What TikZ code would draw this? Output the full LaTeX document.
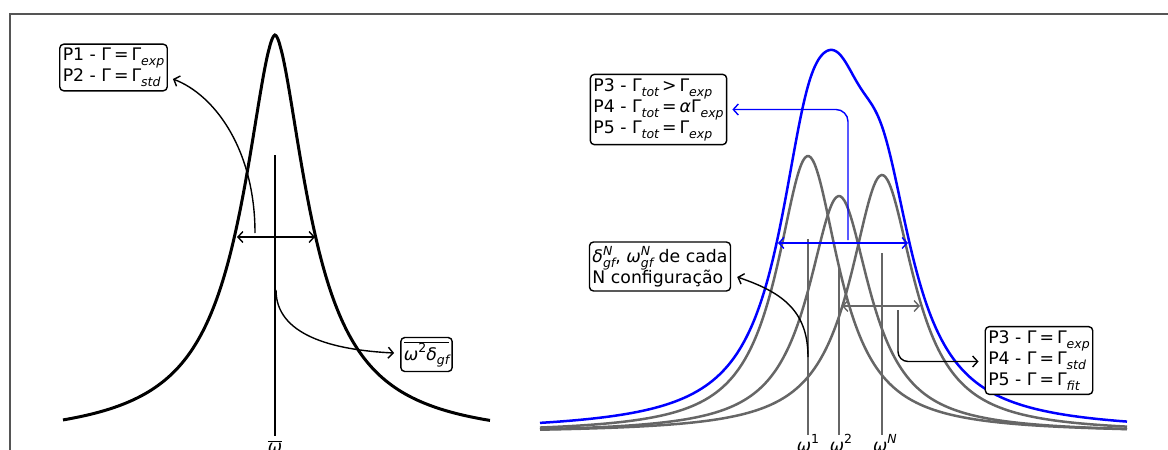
\documentclass[tikz,border=0pt]{standalone}
\usepackage{fontspec}
\setmainfont{DejaVu Sans}
\usetikzlibrary{arrows.meta}
\newcommand\subx[1]{\raisebox{-0.28em}{\fontsize{12.5}{13}\selectfont\itshape #1}}
\newcommand\supx[1]{\raisebox{0.42em}{\fontsize{12.5}{13}\selectfont #1}}
\newcommand\supsubx[2]{\rlap{\supx{\itshape #1}}\subx{#2}}
\newcommand\eqx{\hspace{3pt}=\hspace{3pt}}
\newcommand\gtx{\hspace{3pt}>\hspace{3pt}}
\definecolor{curvegray}{HTML}{666666}
\definecolor{framegray}{HTML}{555555}
\tikzset{
  lbox/.style={draw, line width=1.4pt, rounded corners=4pt, fill=white, inner xsep=3pt, inner ysep=4pt,
    align=left, font=\fontsize{17.3}{21}\selectfont},
  conn/.style={line width=1.4pt, -{Straight Barb[length=5pt,width=11pt]}},
  dconn/.style={line width=1.4pt, {Straight Barb[length=5pt,width=11pt]}-{Straight Barb[length=5pt,width=11pt]}},
  blackcurve/.style={line width=3pt, black},
  graycurve/.style={line width=2.5pt, curvegray},
  bluecurve/.style={line width=2.5pt, blue},
  vline/.style={line width=2pt, curvegray},
  axlabel/.style={anchor=base, inner sep=0pt, font=\fontsize{17}{20}\selectfont},
}
\begin{document}
\begin{tikzpicture}[x=1pt,y=-1pt]
\useasboundingbox (0,0) rectangle (1168,450);
\clip (0,0) rectangle (1168,450);
\draw[framegray, line width=1.5pt] (10,452) -- (10,14) -- (1170,14);

% ---------- left panel ----------
\draw[blackcurve] plot[domain=63:490, samples=400, smooth] (\x, {442 - 407/(1+pow(abs((\x-275)/41),1.74))});
\coordinate (lt) at (275,155);
\coordinate (lbot) at (275,436);
\draw[line width=2pt, black] (lt) -- (lbot);
\coordinate (la) at (237,237);
\coordinate (lb) at (315,237);
\draw[dconn] (la) -- (lb);
\node[lbox] (p12) at (113.5,67.5) {P1 - Γ\eqx Γ\subx{exp}\\P2 - Γ\eqx Γ\subx{std}};
\node[lbox] (om) at (426.5,354.5) {$\overline{\hbox{\itshape ω\supx{\upshape 2}δ\subx{gf}}}$};
\coordinate (lc) at (255,233);
\coordinate (ld) at (276,290);
\draw[conn] (lc) .. controls +(0,-83) and +(42,16) .. ([xshift=5pt,yshift=-11.5pt]p12.east);
\draw[conn] (ld) .. controls +(0,45) and +(-62,-3) .. ([xshift=-6pt,yshift=1.5pt]om.west);
\node[axlabel] (wbar) at (275,452) {$\overline{\hbox{\itshape ω}}$};

% ---------- right panel ----------
\draw[graycurve] plot[domain=540:1127, samples=300, smooth] (\x, {433 - 277/(1+((\x-808)/38)^2)});
\draw[graycurve] plot[domain=540:1127, samples=300, smooth] (\x, {433 - 237/(1+((\x-839)/38)^2)});
\draw[graycurve] plot[domain=540:1127, samples=300, smooth] (\x, {433 - 258/(1+((\x-882)/39)^2)});
\draw[bluecurve] plot[domain=540:1127, samples=400, smooth] (\x, {432 - 0.728*(277/(1+((\x-808)/38)^2) + 237/(1+((\x-839)/38)^2) + 258/(1+((\x-882)/39)^2))});

\coordinate (v1t) at (808,239); \coordinate (v1b) at (808,435);
\coordinate (v2t) at (839,267); \coordinate (v2b) at (839,435);
\coordinate (v3t) at (882,253); \coordinate (v3b) at (882,435);
\draw[vline] (v1t) -- (v1b);
\draw[vline] (v2t) -- (v2b);
\draw[vline] (v3t) -- (v3b);
\node[axlabel] (w1) at (808,451) {\itshape ω\supx{\upshape 1}};
\node[axlabel] (w2) at (841,451) {\itshape ω\supx{\upshape 2}};
\node[axlabel] (wn) at (885,451) {\itshape ω\supx{N}};

\node[lbox] (ptop) at (658.5,109.5) {P3 - Γ\subx{tot}\gtx Γ\subx{exp}\\P4 - Γ\subx{tot}\eqx{\itshape α}Γ\subx{exp}\\P5 - Γ\subx{tot}\eqx Γ\subx{exp}};
\node[lbox] (dl) at (660,266.5) {{\itshape δ}\supsubx{N}{gf}, {\itshape ω}\supsubx{N}{gf} de cada\\N configuração};
\node[lbox] (rb) at (1039,360.5) {P3 - Γ\eqx Γ\subx{exp}\\P4 - Γ\eqx Γ\subx{std}\\P5 - Γ\eqx Γ\subx{fit}};

\coordinate (ba) at (778,243);
\coordinate (bb) at (908,243);
\draw[dconn, blue] (ba) -- (bb);
\coordinate (bs) at (848,240);
\draw[conn, blue, rounded corners=12pt] (bs) |- ([xshift=5pt]ptop.east);

\coordinate (ga) at (842,306);
\coordinate (gb) at (920,306);
\draw[dconn, curvegray] (ga) -- (gb);
\coordinate (gs) at (898,310);
\draw[conn, rounded corners=10pt] (gs) |- ([xshift=-6pt,yshift=-1pt]rb.west);

\coordinate (ks) at (808,357);
\draw[conn] (ks) .. controls +(0,-47) and +(44,15) .. ([xshift=6pt,yshift=-10.5pt]dl.east);
\end{tikzpicture}
\end{document}
